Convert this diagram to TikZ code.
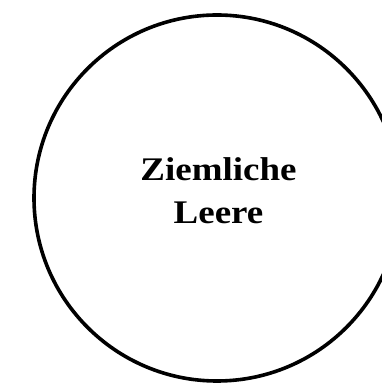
\documentclass[tikz,border=0pt]{standalone}
\usepackage{fontspec}
\setmainfont{Liberation Serif}
\newfontfamily\labelfont[FakeStretch=1.12]{Liberation Serif}
\begin{document}
\begin{tikzpicture}[x=1pt,y=1pt,
  ring/.style={draw=black,line width=3.6pt,circle,minimum size=366pt,inner sep=0pt},
  label/.style={font=\labelfont\bfseries\fontsize{33}{33}\selectfont,anchor=base,inner sep=0pt}]
\useasboundingbox (0,0) rectangle (382,383);
\begin{scope}
\clip (0,0) rectangle (382,383);
\node[ring] (c) at (217,185) {};
\end{scope}
\node[label] (t1) at (218.5,202.3) {Ziemliche};
\node[label] (t2) at (218.5,159) {Leere};
\end{tikzpicture}
\end{document}
